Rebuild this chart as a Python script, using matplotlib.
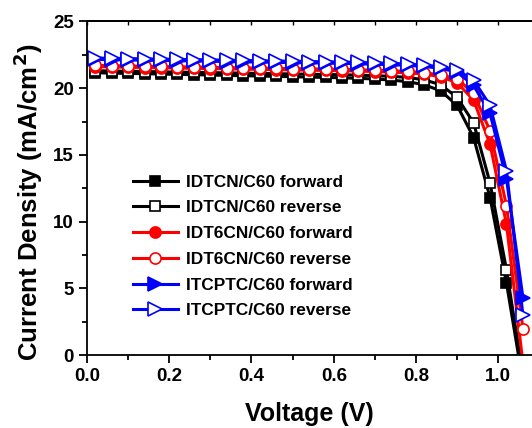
import matplotlib
matplotlib.use("Agg")
import matplotlib.pyplot as plt
from matplotlib.ticker import MultipleLocator

plt.rcParams["font.family"] = ["Liberation Sans", "DejaVu Sans"]
plt.rcParams["font.weight"] = "bold"
plt.rcParams["mathtext.default"] = "bf"

# J-V sweeps (voltage in V, current density in mA/cm2)
voltage = [0.02, 0.06, 0.10, 0.14, 0.18, 0.22, 0.26, 0.30, 0.34, 0.38,
           0.42, 0.46, 0.50, 0.54, 0.58, 0.62, 0.66, 0.70, 0.74, 0.78,
           0.82, 0.86, 0.90, 0.94, 0.98, 1.02, 1.06]

idtcn_fwd = [21.15, 21.12, 21.10, 21.08, 21.05, 21.03, 21.00, 20.98, 20.95, 20.93,
             20.90, 20.88, 20.85, 20.82, 20.80, 20.77, 20.73, 20.68, 20.60, 20.48,
             20.25, 19.80, 18.70, 16.30, 11.80, 5.40, -2.00]
idtcn_rev = [21.30, 21.28, 21.26, 21.24, 21.22, 21.20, 21.18, 21.16, 21.14, 21.12,
             21.10, 21.08, 21.06, 21.04, 21.02, 21.00, 20.97, 20.93, 20.88, 20.80,
             20.62, 20.25, 19.30, 17.40, 12.90, 6.40, -1.50]
idt6cn_fwd = [21.60, 21.58, 21.56, 21.54, 21.52, 21.50, 21.48, 21.46, 21.44, 21.42,
              21.40, 21.38, 21.36, 21.34, 21.32, 21.30, 21.27, 21.24, 21.20, 21.14,
              21.05, 20.85, 20.40, 19.10, 15.80, 9.80, -0.60]
idt6cn_rev = [21.70, 21.68, 21.66, 21.64, 21.62, 21.60, 21.58, 21.56, 21.54, 21.52,
              21.50, 21.48, 21.46, 21.44, 21.42, 21.40, 21.37, 21.34, 21.30, 21.25,
              21.16, 20.98, 20.70, 19.60, 16.80, 11.20, 2.00]
itcptc_fwd = [22.15, 22.13, 22.11, 22.09, 22.07, 22.05, 22.03, 22.01, 21.99, 21.97,
              21.95, 21.93, 21.91, 21.89, 21.87, 21.85, 21.82, 21.79, 21.75, 21.70,
              21.62, 21.48, 21.20, 20.20, 18.10, 13.20, 4.30]
itcptc_rev = [22.25, 22.23, 22.21, 22.19, 22.17, 22.15, 22.13, 22.11, 22.09, 22.07,
              22.05, 22.03, 22.01, 21.99, 21.97, 21.95, 21.92, 21.89, 21.85, 21.80,
              21.72, 21.60, 21.35, 20.60, 18.70, 13.80, 3.00]

labels = ["IDTCN/C60 forward", "IDTCN/C60 reverse",
          "IDT6CN/C60 forward", "IDT6CN/C60 reverse",
          "ITCPTC/C60 forward", "ITCPTC/C60 reverse"]

fig = plt.figure(figsize=(5.32, 4.28), dpi=100)
ax = fig.add_axes([0.1635, 0.1699, 0.8365, 0.7803])

series = [
    (idtcn_fwd, "black", "s", True, 7.5),
    (idtcn_rev, "black", "s", False, 7.5),
    (idt6cn_fwd, "red", "o", True, 8),
    (idt6cn_rev, "red", "o", False, 8),
    (itcptc_fwd, "blue", ">", True, 9.5),
    (itcptc_rev, "blue", ">", False, 9.5),
]
for (j, color, marker, filled, ms), lab in zip(series, labels):
    ax.plot(voltage, j, color=color, lw=2.2, marker=marker, ms=ms,
            mfc=color if filled else "white", mec=color, mew=1.2, label=lab)

ax.set_xlim(0, 1.082)
ax.set_ylim(0, 25)
ax.xaxis.set_major_locator(MultipleLocator(0.2))
ax.xaxis.set_minor_locator(MultipleLocator(0.1))
ax.yaxis.set_major_locator(MultipleLocator(5))
ax.yaxis.set_minor_locator(MultipleLocator(2.5))
ax.xaxis.set_major_formatter(lambda v, p: f"{v:.1f}")
ax.tick_params(which="major", direction="out", length=6, width=1.3, labelsize=13.5)
ax.tick_params(which="minor", direction="out", length=3.5, width=1.3)
for s in ax.spines.values():
    s.set_linewidth(1.3)
ax.spines["right"].set_visible(False)

top = ax.secondary_xaxis("top")
top.xaxis.set_major_locator(MultipleLocator(0.1))
top.tick_params(direction="in", length=3, width=1.0, labeltop=False)
top.spines["top"].set_linewidth(1.3)

ax.set_xlabel("Voltage (V)", fontsize=18, fontweight="bold", labelpad=12)
ax.set_ylabel("Current Density (mA/cm$^2$)", fontsize=18.5, fontweight="bold")
ax.yaxis.set_label_coords(-0.094, 0.459)

ax.legend(loc="upper left", bbox_to_anchor=(0.25, 0.592), bbox_transform=fig.transFigure,
          frameon=False, fontsize=12.4, handlelength=2.6, handletextpad=0.45,
          labelspacing=0.62, borderpad=0, borderaxespad=0, numpoints=1)

fig.savefig("out.png", dpi=100)
